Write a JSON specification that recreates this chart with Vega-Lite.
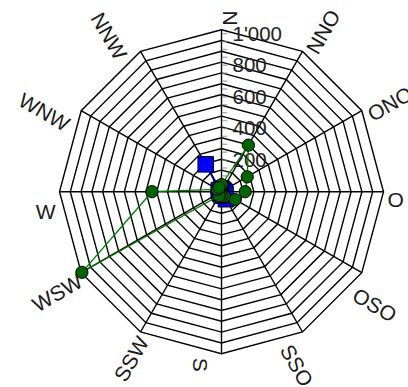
{
  "$schema": "https://vega.github.io/schema/vega-lite/v6.json",
  "width": 324,
  "height": 324,
  "autosize": {"type": "none"},
  "padding": {"left": 59.5, "top": 29.7, "right": 24.5, "bottom": 33.3},
  "background": "white",
  "config": {"view": {"stroke": null}},
  "datasets": {
    "ringgrid": [
      {"deg": 0, "lv": [68.33, 136.67, 205, 273.33, 341.67, 410, 478.33, 546.67, 615, 683.33, 751.67, 820, 888.33, 956.67, 1025]},
      {"deg": 30, "lv": [68.33, 136.67, 205, 273.33, 341.67, 410, 478.33, 546.67, 615, 683.33, 751.67, 820, 888.33, 956.67, 1025]},
      {"deg": 60, "lv": [68.33, 136.67, 205, 273.33, 341.67, 410, 478.33, 546.67, 615, 683.33, 751.67, 820, 888.33, 956.67, 1025]},
      {"deg": 90, "lv": [68.33, 136.67, 205, 273.33, 341.67, 410, 478.33, 546.67, 615, 683.33, 751.67, 820, 888.33, 956.67, 1025]},
      {"deg": 120, "lv": [68.33, 136.67, 205, 273.33, 341.67, 410, 478.33, 546.67, 615, 683.33, 751.67, 820, 888.33, 956.67, 1025]},
      {"deg": 150, "lv": [68.33, 136.67, 205, 273.33, 341.67, 410, 478.33, 546.67, 615, 683.33, 751.67, 820, 888.33, 956.67, 1025]},
      {"deg": 180, "lv": [68.33, 136.67, 205, 273.33, 341.67, 410, 478.33, 546.67, 615, 683.33, 751.67, 820, 888.33, 956.67, 1025]},
      {"deg": 210, "lv": [68.33, 136.67, 205, 273.33, 341.67, 410, 478.33, 546.67, 615, 683.33, 751.67, 820, 888.33, 956.67, 1025]},
      {"deg": 240, "lv": [68.33, 136.67, 205, 273.33, 341.67, 410, 478.33, 546.67, 615, 683.33, 751.67, 820, 888.33, 956.67, 1025]},
      {"deg": 270, "lv": [68.33, 136.67, 205, 273.33, 341.67, 410, 478.33, 546.67, 615, 683.33, 751.67, 820, 888.33, 956.67, 1025]},
      {"deg": 300, "lv": [68.33, 136.67, 205, 273.33, 341.67, 410, 478.33, 546.67, 615, 683.33, 751.67, 820, 888.33, 956.67, 1025]},
      {"deg": 330, "lv": [68.33, 136.67, 205, 273.33, 341.67, 410, 478.33, 546.67, 615, 683.33, 751.67, 820, 888.33, 956.67, 1025]},
      {"deg": 360, "lv": [68.33, 136.67, 205, 273.33, 341.67, 410, 478.33, 546.67, 615, 683.33, 751.67, 820, 888.33, 956.67, 1025]}
    ],
    "dirs": [
      {"dir": "N", "deg": 0},
      {"dir": "NNO", "deg": 30},
      {"dir": "ONO", "deg": 60},
      {"dir": "O", "deg": 90},
      {"dir": "OSO", "deg": 120},
      {"dir": "SSO", "deg": 150},
      {"dir": "S", "deg": 180},
      {"dir": "SSW", "deg": 210},
      {"dir": "WSW", "deg": 240},
      {"dir": "W", "deg": 270},
      {"dir": "WNW", "deg": 300},
      {"dir": "NNW", "deg": 330}
    ],
    "minorticks": [
      {"v": 50}, {"v": 100}, {"v": 150}, {"v": 200}, {"v": 250}, {"v": 300}, {"v": 350}, {"v": 400}, {"v": 450}, {"v": 500},
      {"v": 550}, {"v": 600}, {"v": 650}, {"v": 700}, {"v": 750}, {"v": 800}, {"v": 850}, {"v": 900}, {"v": 950}, {"v": 1000}
    ],
    "ticklabels": [
      {"v": 200, "t": "200"},
      {"v": 400, "t": "400"},
      {"v": 600, "t": "600"},
      {"v": 800, "t": "800"},
      {"v": 1000, "t": "1'000"}
    ],
    "series": [
      {"s": "blue", "dir": "N", "deg": 0, "v": 20},
      {"s": "blue", "dir": "NNO", "deg": 30, "v": 15},
      {"s": "blue", "dir": "ONO", "deg": 60, "v": 15},
      {"s": "blue", "dir": "O", "deg": 90, "v": 20},
      {"s": "blue", "dir": "OSO", "deg": 120, "v": 30},
      {"s": "blue", "dir": "SSO", "deg": 150, "v": 55},
      {"s": "blue", "dir": "S", "deg": 180, "v": 25},
      {"s": "blue", "dir": "SSW", "deg": 210, "v": 15},
      {"s": "blue", "dir": "WSW", "deg": 240, "v": 15},
      {"s": "blue", "dir": "W", "deg": 270, "v": 15},
      {"s": "blue", "dir": "WNW", "deg": 300, "v": 20},
      {"s": "blue", "dir": "NNW", "deg": 330, "v": 200},
      {"s": "green", "dir": "N", "deg": 0, "v": 45},
      {"s": "green", "dir": "NNO", "deg": 30, "v": 340},
      {"s": "green", "dir": "ONO", "deg": 60, "v": 188},
      {"s": "green", "dir": "O", "deg": 90, "v": 150},
      {"s": "green", "dir": "OSO", "deg": 120, "v": 100},
      {"s": "green", "dir": "SSO", "deg": 150, "v": 35},
      {"s": "green", "dir": "S", "deg": 180, "v": 30},
      {"s": "green", "dir": "SSW", "deg": 210, "v": 30},
      {"s": "green", "dir": "WSW", "deg": 240, "v": 1020},
      {"s": "green", "dir": "W", "deg": 270, "v": 440},
      {"s": "green", "dir": "WNW", "deg": 300, "v": 30},
      {"s": "green", "dir": "NNW", "deg": 330, "v": 30}
    ]
  },
  "encoding": {
    "x": {"field": "x", "type": "quantitative", "scale": {"domain": [-1025, 1025], "nice": false, "zero": false}, "axis": null},
    "y": {"field": "y", "type": "quantitative", "scale": {"domain": [-1025, 1025], "nice": false, "zero": false}, "axis": null}
  },
  "layer": [
    {
      "data": {"name": "ringgrid"},
      "transform": [
        {"flatten": ["lv"]},
        {"calculate": "datum.lv * sin(datum.deg * PI / 180)", "as": "x"},
        {"calculate": "datum.lv * cos(datum.deg * PI / 180)", "as": "y"}
      ],
      "mark": {"type": "line", "color": "black", "strokeWidth": 1.4},
      "encoding": {
        "detail": {"field": "lv", "type": "nominal"},
        "order": {"field": "deg", "type": "quantitative"}
      }
    },
    {
      "data": {"name": "dirs"},
      "transform": [
        {"calculate": "1025 * sin(datum.deg * PI / 180)", "as": "x"},
        {"calculate": "1025 * cos(datum.deg * PI / 180)", "as": "y"},
        {"calculate": "0", "as": "x0"},
        {"calculate": "0", "as": "y0"}
      ],
      "mark": {"type": "rule", "color": "black", "strokeWidth": 1.4},
      "encoding": {
        "x2": {"field": "x0"},
        "y2": {"field": "y0"}
      }
    },
    {
      "data": {"name": "minorticks"},
      "transform": [
        {"calculate": "0", "as": "x"},
        {"calculate": "datum.v", "as": "y"}
      ],
      "mark": {"type": "tick", "orient": "horizontal", "color": "#8f8f8f", "size": 5.5, "thickness": 1.5, "xOffset": 3}
    },
    {
      "data": {"name": "ticklabels"},
      "transform": [
        {"calculate": "0", "as": "x"},
        {"calculate": "datum.v", "as": "y"}
      ],
      "mark": {"type": "text", "align": "left", "baseline": "middle", "dx": 11, "dy": 1, "fontSize": 20.5, "font": "Liberation Sans", "color": "#222222"},
      "encoding": {
        "text": {"field": "t"}
      }
    },
    {
      "data": {"name": "series"},
      "transform": [
        {"filter": "datum.s == 'blue'"},
        {"calculate": "datum.v * sin(datum.deg * PI / 180)", "as": "x"},
        {"calculate": "datum.v * cos(datum.deg * PI / 180)", "as": "y"}
      ],
      "mark": {"type": "line", "color": "#0000ff", "strokeWidth": 1.2},
      "encoding": {"order": {"field": "deg", "type": "quantitative"}}
    },
    {
      "data": {"name": "series"},
      "transform": [
        {"filter": "datum.s == 'blue'"},
        {"calculate": "datum.v * sin(datum.deg * PI / 180)", "as": "x"},
        {"calculate": "datum.v * cos(datum.deg * PI / 180)", "as": "y"}
      ],
      "mark": {"type": "point", "shape": "square", "filled": true, "fill": "#0000ff", "stroke": "black", "strokeWidth": 1, "size": 240, "opacity": 1}
    },
    {
      "data": {"name": "series"},
      "transform": [
        {"filter": "datum.s == 'green'"},
        {"calculate": "datum.v * sin(datum.deg * PI / 180)", "as": "x"},
        {"calculate": "datum.v * cos(datum.deg * PI / 180)", "as": "y"}
      ],
      "mark": {"type": "line", "color": "#008000", "strokeWidth": 1.3},
      "encoding": {"order": {"field": "deg", "type": "quantitative"}}
    },
    {
      "data": {"name": "series"},
      "transform": [
        {"filter": "datum.s == 'green'"},
        {"calculate": "datum.v * sin(datum.deg * PI / 180)", "as": "x"},
        {"calculate": "datum.v * cos(datum.deg * PI / 180)", "as": "y"}
      ],
      "mark": {"type": "point", "shape": "circle", "filled": true, "fill": "#006400", "stroke": "black", "strokeWidth": 1, "size": 150, "opacity": 1}
    },
    {
      "data": {"name": "dirs"},
      "transform": [
        {"filter": "datum.deg <= 90"},
        {"calculate": "1050 * sin(datum.deg * PI / 180)", "as": "x"},
        {"calculate": "1050 * cos(datum.deg * PI / 180)", "as": "y"},
        {"calculate": "datum.deg - 90", "as": "rot"}
      ],
      "mark": {"type": "text", "align": "left", "baseline": "top", "dy": -1.5, "fontSize": 21, "font": "Liberation Sans", "color": "#1a1a1a"},
      "encoding": {
        "text": {"field": "dir"},
        "angle": {"field": "rot", "type": "quantitative", "scale": null}
      }
    },
    {
      "data": {"name": "dirs"},
      "transform": [
        {"filter": "datum.deg > 90 && datum.deg <= 180"},
        {"calculate": "1050 * sin(datum.deg * PI / 180)", "as": "x"},
        {"calculate": "1050 * cos(datum.deg * PI / 180)", "as": "y"},
        {"calculate": "datum.deg - 90", "as": "rot"}
      ],
      "mark": {"type": "text", "align": "left", "baseline": "top", "dy": 12, "fontSize": 21, "font": "Liberation Sans", "color": "#1a1a1a"},
      "encoding": {
        "text": {"field": "dir"},
        "angle": {"field": "rot", "type": "quantitative", "scale": null}
      }
    },
    {
      "data": {"name": "dirs"},
      "transform": [
        {"filter": "datum.deg > 180 && datum.deg <= 240"},
        {"calculate": "1050 * sin(datum.deg * PI / 180)", "as": "x"},
        {"calculate": "1050 * cos(datum.deg * PI / 180)", "as": "y"},
        {"calculate": "datum.deg - 270", "as": "rot"}
      ],
      "mark": {"type": "text", "align": "right", "baseline": "top", "dy": -4, "fontSize": 21, "font": "Liberation Sans", "color": "#1a1a1a"},
      "encoding": {
        "text": {"field": "dir"},
        "angle": {"field": "rot", "type": "quantitative", "scale": null}
      }
    },
    {
      "data": {"name": "dirs"},
      "transform": [
        {"filter": "datum.deg > 240"},
        {"calculate": "1050 * sin(datum.deg * PI / 180)", "as": "x"},
        {"calculate": "1050 * cos(datum.deg * PI / 180)", "as": "y"},
        {"calculate": "datum.deg - 270", "as": "rot"}
      ],
      "mark": {"type": "text", "align": "right", "baseline": "top", "dy": 10, "fontSize": 21, "font": "Liberation Sans", "color": "#1a1a1a"},
      "encoding": {
        "text": {"field": "dir"},
        "angle": {"field": "rot", "type": "quantitative", "scale": null}
      }
    }
  ]
}
